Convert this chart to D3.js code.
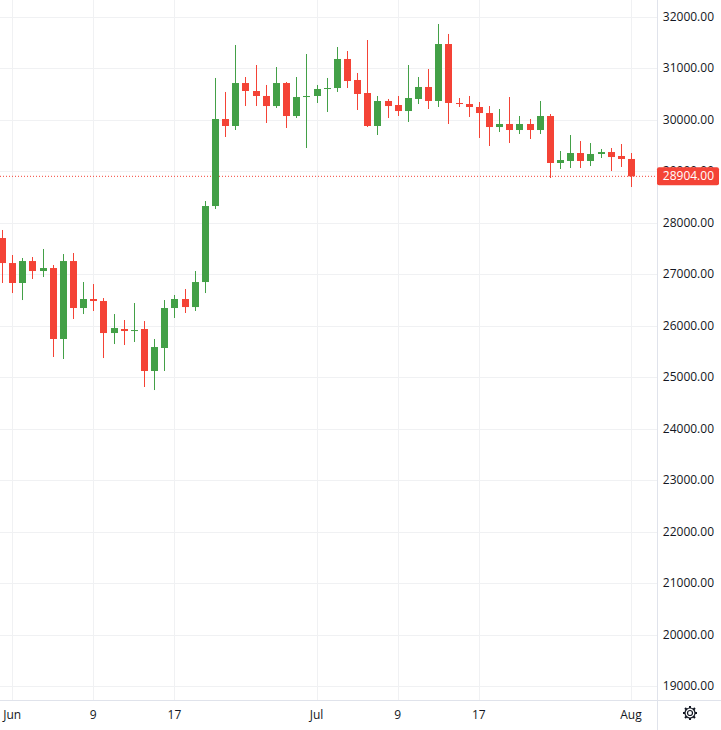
<!DOCTYPE html>
<html><head><meta charset="utf-8">
<script src="https://cdn.jsdelivr.net/npm/d3@7"></script>
<style>body{margin:0;background:#fff}svg{display:block;font-family:"Open Sans",Roboto,sans-serif}</style>
</head><body><svg id="c" width="721" height="730"></svg>
<script>
const startDate = "2023-05-31";
const opens  = [27705,27219,26831,27258,27064,27122,25743,27258,26345,26520,26481,25859,25937,25898,25937,25121,25568,26345,26520,26364,26850,28327,30018,29882,30717,30562,30465,30270,30717,30076,30445,30465,30601,30620,31184,30776,30523,29882,30368,30290,30173,30407,30640,30368,31475,30329,30309,30251,30134,29862,29921,29804,29921,29804,30076,29163,29202,29357,29202,29338,29376,29299,29241];
const highs  = [27861,27375,27317,27336,27492,27181,27394,27414,26850,26811,26539,26228,26112,26442,26092,25743,26500,26598,26714,27064,28424,30815,30543,31456,30834,31067,30679,31028,30737,30834,31281,30679,30815,31417,31339,30912,31553,30465,30407,30465,31067,30834,30989,31864,31670,30426,30465,30348,30270,30212,30445,30076,30018,30368,30115,29396,29707,29590,29551,29435,29454,29532,29357];
const lows   = [26831,26636,26500,26909,26947,25393,25354,26131,26228,26287,25373,25645,25626,25684,24810,24751,25121,26151,26248,26287,26636,28269,29668,29804,30270,30270,29940,30232,29843,30037,29454,30329,30154,30543,30620,30193,29862,29707,30037,30076,29960,30309,30212,30251,29921,30251,30057,29649,29493,29765,29551,29726,29629,29726,28871,29046,29066,29066,29104,29260,29007,29085,28696];
const closes = [27219,26831,27258,27064,27122,25743,27258,26345,26520,26481,25859,25956,25898,25917,25121,25587,26345,26520,26364,26850,28327,30018,29882,30717,30562,30465,30270,30717,30076,30445,30465,30601,30620,31184,30756,30504,29882,30368,30270,30173,30426,30640,30368,31475,30329,30309,30251,30134,29862,29921,29804,29921,29804,30076,29163,29221,29357,29202,29338,29376,29279,29241,28904];
const priceTicks = [19000,20000,21000,22000,23000,24000,25000,26000,27000,28000,29000,30000,31000,32000];
const dateTicks = [["2023-06-01","Jun"],["2023-06-09","9"],["2023-06-17","17"],["2023-07-01","Jul"],["2023-07-09","9"],["2023-07-17","17"],["2023-08-01","Aug"]];
const lastPrice = 28904;

const svg = d3.select("#c");
const W=721,H=730,plotR=657,plotB=700;
const day = d3.utcParse("%Y-%m-%d");
const d0 = day(startDate);
const dates = opens.map((_,i)=>d3.utcDay.offset(d0,i));
const x = d3.scaleUtc().domain([d0, dates[dates.length-1]]).range([2,631]);
const y = d3.scaleLinear().domain([19000,32000]).range([686,17]);
const up="#43a047", dn="#f44336";

const g = svg.append("g");
// grid
g.selectAll(".hg").data(priceTicks).join("line").attr("x1",0).attr("x2",plotR).attr("y1",d=>Math.round(y(d))+.5).attr("y2",d=>Math.round(y(d))+.5).attr("stroke","#f0f1f3");
g.selectAll(".vg").data(dateTicks).join("line").attr("y1",0).attr("y2",plotB).attr("x1",d=>Math.round(x(day(d[0])))+.5).attr("x2",d=>Math.round(x(day(d[0])))+.5).attr("stroke","#f0f1f3");

// last price line
g.append("line").attr("x1",0).attr("x2",plotR).attr("y1",y(lastPrice)).attr("y2",y(lastPrice)).attr("stroke",dn).attr("stroke-dasharray","1,2");

// candles
const c = g.selectAll(".cd").data(opens.map((o,i)=>({d:dates[i],o,h:highs[i],l:lows[i],c:closes[i]}))).join("g");
c.append("line").attr("x1",d=>Math.round(x(d.d))+.5).attr("x2",d=>Math.round(x(d.d))+.5).attr("y1",d=>y(d.h)).attr("y2",d=>y(d.l)).attr("stroke",d=>d.c>=d.o?up:dn);
c.append("rect").attr("x",d=>Math.round(x(d.d))-3).attr("width",7).attr("y",d=>y(Math.max(d.o,d.c))).attr("height",d=>Math.max(1,Math.abs(y(d.o)-y(d.c)))).attr("fill",d=>d.c>=d.o?up:dn);

// axes separators
svg.append("line").attr("x1",plotR+.5).attr("x2",plotR+.5).attr("y1",0).attr("y2",H).attr("stroke","#e0e3eb");
svg.append("line").attr("x1",0).attr("x2",W).attr("y1",plotB+.5).attr("y2",plotB+.5).attr("stroke","#e0e3eb");

// y labels
svg.selectAll(".yl").data(priceTicks).join("text").attr("x",714).attr("y",d=>y(d)+4).attr("text-anchor","end").attr("font-size",12).attr("fill","#131722").text(d=>d3.format(".2f")(d));
// x labels
svg.selectAll(".xl").data(dateTicks).join("text").attr("x",d=>x(day(d[0]))).attr("y",719).attr("text-anchor","middle").attr("font-size",12).attr("fill","#131722").text(d=>d[1]);

// last price tag
svg.append("rect").attr("x",plotR).attr("y",y(lastPrice)-9).attr("width",62).attr("height",18).attr("fill",dn).attr("rx",2);
svg.append("text").attr("x",714).attr("y",y(lastPrice)+4).attr("text-anchor","end").attr("font-size",12).attr("fill","#fff").text(d3.format(".2f")(lastPrice));

// gear icon
const gear = svg.append("g").attr("transform","translate(690,713)").attr("fill","none").attr("stroke","#131722").attr("stroke-width",1.2);
gear.append("circle").attr("r",2.5);
gear.append("circle").attr("r",5);
d3.range(8).forEach(i=>{const a=i*Math.PI/4;gear.append("line").attr("x1",5*Math.cos(a)).attr("y1",5*Math.sin(a)).attr("x2",7*Math.cos(a)).attr("y2",7*Math.sin(a)).attr("stroke-width",2);});
</script></body></html>
